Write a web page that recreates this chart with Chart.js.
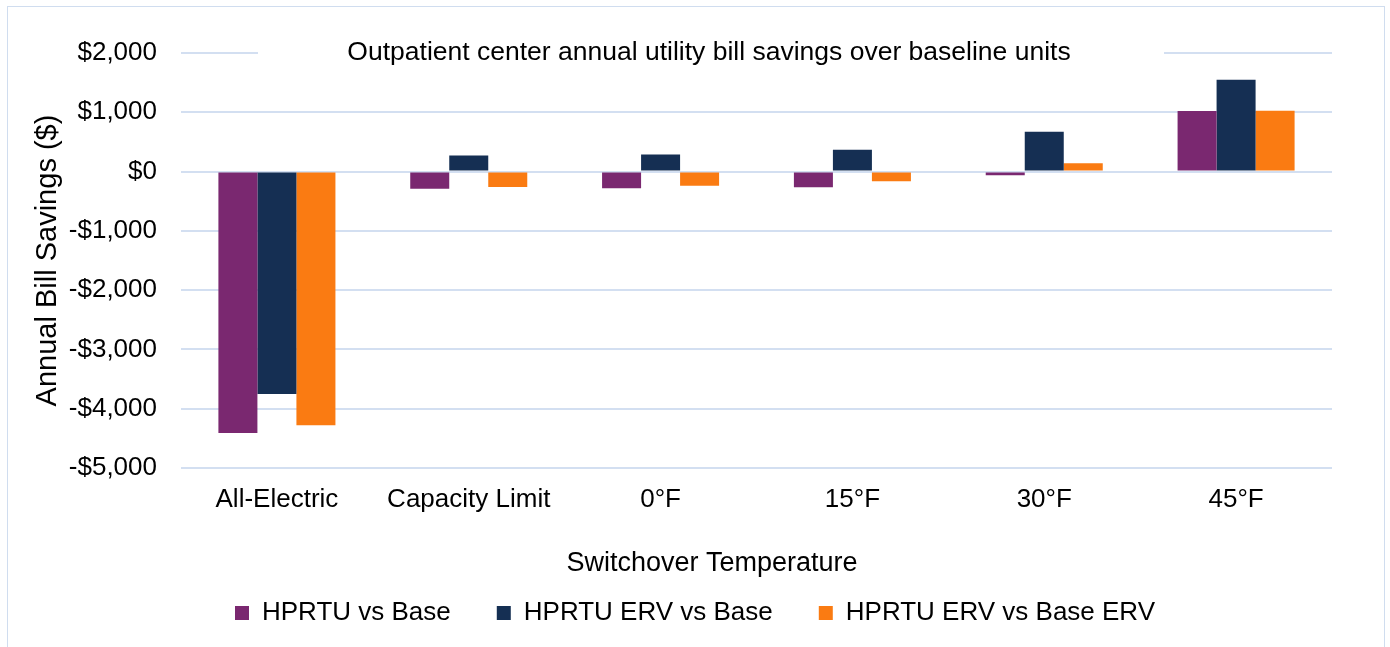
<!DOCTYPE html>
<html>
<head>
<meta charset="utf-8">
<script src="https://cdn.jsdelivr.net/npm/chart.js@4.4.1/dist/chart.umd.min.js"></script>
<style>
	html, body { margin: 0; padding: 0; background: #fff; }
	#wrap { width: 1390px; height: 647px; position: relative; }
</style>
</head>
<body>
<div id="wrap"><canvas id="myChart" width="1390" height="647"></canvas></div>
<script>
const categories = ['All-Electric', 'Capacity Limit', '0°F', '15°F', '30°F', '45°F']
const hprtuVsBase = [-4410, -290, -280, -265, -60, 1020]
const hprtuErvVsBase = [-3750, 270, 290, 370, 670, 1550]
const hprtuErvVsBaseErv = [-4280, -260, -240, -165, 140, 1025]
const yTicks = [-5000, -4000, -3000, -2000, -1000, 0, 1000, 2000]

const chartTitle = 'Outpatient center annual utility bill savings over baseline units'
const xTitle = 'Switchover Temperature'
const fontFamily = '"Liberation Sans", Arial, sans-serif'
const gridColor = '#d3dff1'

Chart.defaults.font.family = fontFamily
Chart.defaults.color = '#000'

function money(v) {
	const s = Math.abs(v).toLocaleString('en-US')
	return v < 0 ? '-$' + s : '$' + s
}

// title sits inside the plot on top of the $2,000 gridline, x title is a bit left of
// the plot centre like in the original, plus the light frame
const extraText = {
	id: 'extraText',
	afterDraw(chart) {
		const ctx = chart.ctx
		const area = chart.chartArea
		const y = chart.scales.y.getPixelForValue(2000)
		ctx.save()
		ctx.strokeStyle = '#d0ddef'
		ctx.lineWidth = 1
		ctx.strokeRect(7.5, 6.5, 1377, 700)
		ctx.fillStyle = '#fff'
		ctx.fillRect(area.left + 77, y - 6, 906, 12)
		ctx.fillStyle = '#000'
		ctx.textAlign = 'center'
		ctx.textBaseline = 'middle'
		ctx.font = '26.5px ' + fontFamily
		ctx.fillText(chartTitle, 709, y)
		ctx.font = '27px ' + fontFamily
		ctx.fillText(xTitle, 712, area.bottom + 96)
		ctx.restore()
	}
}

const ctx = document.getElementById('myChart')
var chart = new Chart(ctx, {
	type: 'bar',
	data: {
		labels: categories,
		datasets: [{
			label: 'HPRTU vs Base',
			data: hprtuVsBase,
			backgroundColor: '#7a2870'
		}, {
			label: 'HPRTU ERV vs Base',
			data: hprtuErvVsBase,
			backgroundColor: '#152f53'
		}, {
			label: 'HPRTU ERV vs Base ERV',
			data: hprtuErvVsBaseErv,
			backgroundColor: '#fa7b12'
		}]
	},
	options: {
		responsive: false,
		animation: false,
		layout: {
			padding: { top: 53, left: 58, right: 58, bottom: 11 }
		},
		datasets: {
			bar: {
				categoryPercentage: 0.61,
				barPercentage: 1
			}
		},
		plugins: {
			legend: {
				position: 'bottom',
				labels: {
					boxWidth: 14,
					boxHeight: 14,
					padding: 46,
					font: { size: 26 },
					color: '#000'
				}
			},
			tooltip: { enabled: false }
		},
		scales: {
			x: {
				grid: { display: false, drawTicks: false },
				border: { display: false },
				ticks: {
					padding: 16,
					font: { size: 26 },
					color: '#000'
				},
				afterFit: function (scale) {
					scale.height = 86
				}
			},
			y: {
				min: -5000,
				max: 2000,
				afterBuildTicks: function (scale) {
					scale.ticks = yTicks.map(v => ({ value: v }))
				},
				grid: {
					color: gridColor,
					lineWidth: 2,
					drawTicks: false
				},
				border: { display: false },
				ticks: {
					padding: 24,
					font: { size: 26 },
					color: '#000',
					callback: function (value) {
						return money(value)
					}
				},
				title: {
					display: true,
					text: 'Annual Bill Savings ($)',
					font: { size: 29 },
					color: '#000',
					padding: { top: -27, bottom: 0 }
				},
				afterFit: function (scale) {
					scale.width = 123
				}
			}
		}
	},
	plugins: [extraText]
})
</script>
</body>
</html>
